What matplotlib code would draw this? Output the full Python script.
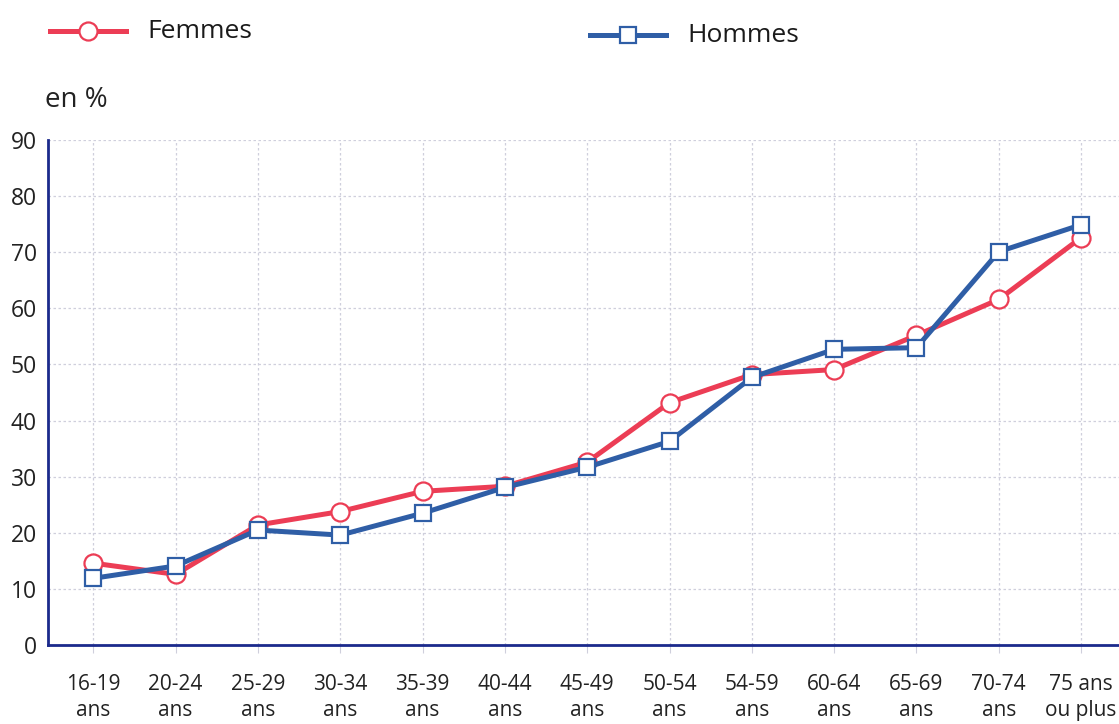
import matplotlib.pyplot as plt
from matplotlib import font_manager

categories = ["16-19\nans", "20-24\nans", "25-29\nans", "30-34\nans", "35-39\nans",
              "40-44\nans", "45-49\nans", "50-54\nans", "54-59\nans", "60-64\nans",
              "65-69\nans", "70-74\nans", "75 ans\nou plus"]
femmes = [14.6, 12.6, 21.4, 23.8, 27.4, 28.3, 32.6, 43.2, 48.2, 49.1, 55.2, 61.6, 72.6]
hommes = [11.9, 14.1, 20.5, 19.6, 23.5, 28.1, 31.7, 36.3, 47.7, 52.7, 53.0, 70.1, 74.9]
yticks = [0, 10, 20, 30, 40, 50, 60, 70, 80, 90]

RED = "#ec3d55"
BLUE = "#2f5ea6"
NAVY = "#1b2a8c"
GRID = "#cfcfdc"

installed = {f.name for f in font_manager.fontManager.ttflist}
legend_font = "Liberation Sans Narrow" if "Liberation Sans Narrow" in installed else "Open Sans"

plt.rcParams["font.family"] = ["Open Sans", "DejaVu Sans"]

fig = plt.figure(figsize=(11.19, 7.24), dpi=100)
ax = fig.add_axes([0.0429, 0.109, 0.9571, 0.6976])

x = list(range(len(categories)))
ax.plot(x, femmes, color=RED, lw=3.6, marker="o", ms=13, mfc="white",
        mec=RED, mew=1.6, zorder=3, solid_joinstyle="round")
ax.plot(x, hommes, color=BLUE, lw=3.6, marker="s", ms=12, mfc="white",
        mec=BLUE, mew=1.6, zorder=4, solid_joinstyle="round")

ax.set_xlim(-0.55, 12.46)
ax.set_ylim(0, 90)
ax.set_xticks(x)
ax.set_xticklabels(categories, fontsize=15, color="#222222", linespacing=1.3)
ax.set_yticks(yticks)
ax.set_yticklabels([str(v) for v in yticks], fontsize=16.5, color="#222222")

ax.grid(True, color=GRID, lw=0.9, ls=(0, (2, 2)))
ax.set_axisbelow(True)
ax.tick_params(axis="x", length=6, color=GRID, pad=15, direction="out")
ax.tick_params(axis="y", length=0, pad=8)

for side in ("top", "right"):
    ax.spines[side].set_visible(False)
for side in ("left", "bottom"):
    ax.spines[side].set_color(NAVY)
    ax.spines[side].set_linewidth(2.0)

# unit label
fig.text(45 / 1119, 1 - 100 / 724, "en %", fontsize=20, color="#222222",
         va="center", ha="left")

# legend drawn as line samples with text
def legend_entry(x0, x1, y, color, marker, ms, label, tx):
    yy = 1 - y / 724
    line = plt.Line2D([x0 / 1119, x1 / 1119], [yy, yy], transform=fig.transFigure,
                      color=color, lw=3.6)
    fig.add_artist(line)
    mk = plt.Line2D([(x0 + x1) / 2 / 1119], [yy], transform=fig.transFigure,
                    color=color, marker=marker, ms=ms, mfc="white", mec=color,
                    mew=1.6, lw=0)
    fig.add_artist(mk)
    fig.text(tx / 1119, yy, label, fontsize=19, family=[legend_font, "DejaVu Sans"],
             color="#1a1a1a", va="center", ha="left")

legend_entry(50, 126, 31, RED, "o", 13, "Femmes", 147)
legend_entry(590, 666, 35, BLUE, "s", 12, "Hommes", 687)

fig.savefig("out.png", dpi=100, facecolor="white")
